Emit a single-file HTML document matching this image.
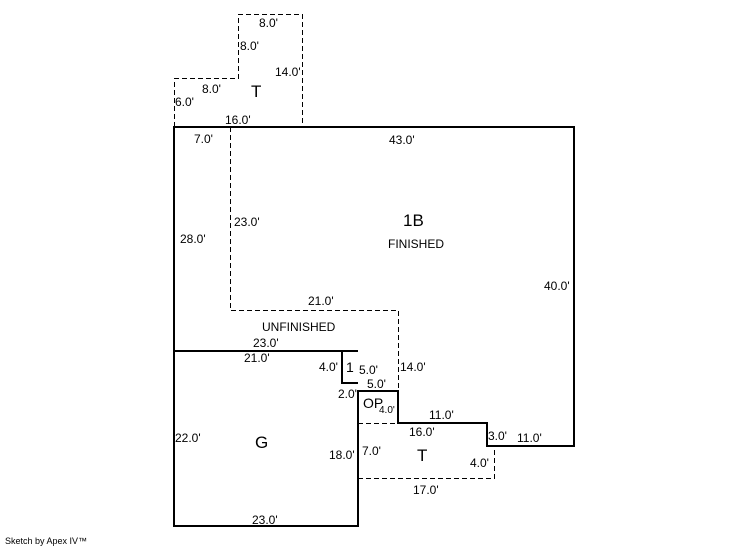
<!DOCTYPE html>
<html><head><meta charset="utf-8"><style>
html,body{margin:0;padding:0;background:#fff;}
svg{display:block}
text{font-family:"Liberation Sans",Arial,sans-serif;font-size:12px;fill:#000}
.s{stroke:#000;stroke-width:2;fill:none}
.d{stroke:#000;stroke-width:1;fill:none;stroke-dasharray:5,3}
</style></head><body>
<svg width="746" height="547" viewBox="0 0 746 547" xmlns="http://www.w3.org/2000/svg">
<!-- dashed top T -->
<path class="d" d="M174.5,127 V78.5 H238.5 V14.5 H302.5 V127"/>
<!-- dashed unfinished -->
<path class="d" d="M230.5,127 V310.5 H398.5 V391"/>
<!-- dashed bottom T -->
<path class="d" d="M358,423.5 H398 M358,478.5 H494.5 V446"/>
<!-- main solid outline -->
<path class="s" d="M174,127 H574 V446 H487 V423 H398 V391 H358 V526 H174 Z"/>
<path class="s" d="M174,351 H358"/>
<path class="s" d="M342,351 V383 H358"/>

<text x="259" y="27">8.0'</text>
<text x="240" y="50">8.0'</text>
<text x="275" y="76">14.0'</text>
<text x="202" y="93">8.0'</text>
<text x="251" y="97" style="font-size:17px">T</text>
<text x="175" y="106">6.0'</text>
<text x="225" y="124">16.0'</text>
<text x="194" y="143">7.0'</text>
<text x="389" y="144">43.0'</text>
<text x="403" y="226" style="font-size:17px">1B</text>
<text x="388" y="248">FINISHED</text>
<text x="234" y="226">23.0'</text>
<text x="180" y="243">28.0'</text>
<text x="544" y="290">40.0'</text>
<text x="308" y="305">21.0'</text>
<text x="262" y="331">UNFINISHED</text>
<text x="253" y="347">23.0'</text>
<text x="244" y="362">21.0'</text>
<text x="319" y="371">4.0'</text>
<text x="346" y="372" style="font-size:14px">1</text>
<text x="359" y="374">5.0'</text>
<text x="400" y="371">14.0'</text>
<text x="367" y="388">5.0'</text>
<text x="338" y="398">2.0'</text>
<text x="363" y="408" style="font-size:14px">OP</text>
<text x="379" y="413" style="font-size:10px">4.0'</text>
<text x="429" y="419">11.0'</text>
<text x="409" y="436">16.0'</text>
<text x="488" y="440">3.0'</text>
<text x="517" y="442">11.0'</text>
<text x="175" y="442">22.0'</text>
<text x="255" y="448" style="font-size:17px">G</text>
<text x="329" y="459">18.0'</text>
<text x="362" y="455">7.0'</text>
<text x="417" y="461" style="font-size:17px">T</text>
<text x="470" y="467">4.0'</text>
<text x="413" y="494">17.0'</text>
<text x="252" y="524">23.0'</text>
<text x="5" y="544" style="font-size:9px">Sketch by Apex IV™</text>
</svg>
</body></html>
